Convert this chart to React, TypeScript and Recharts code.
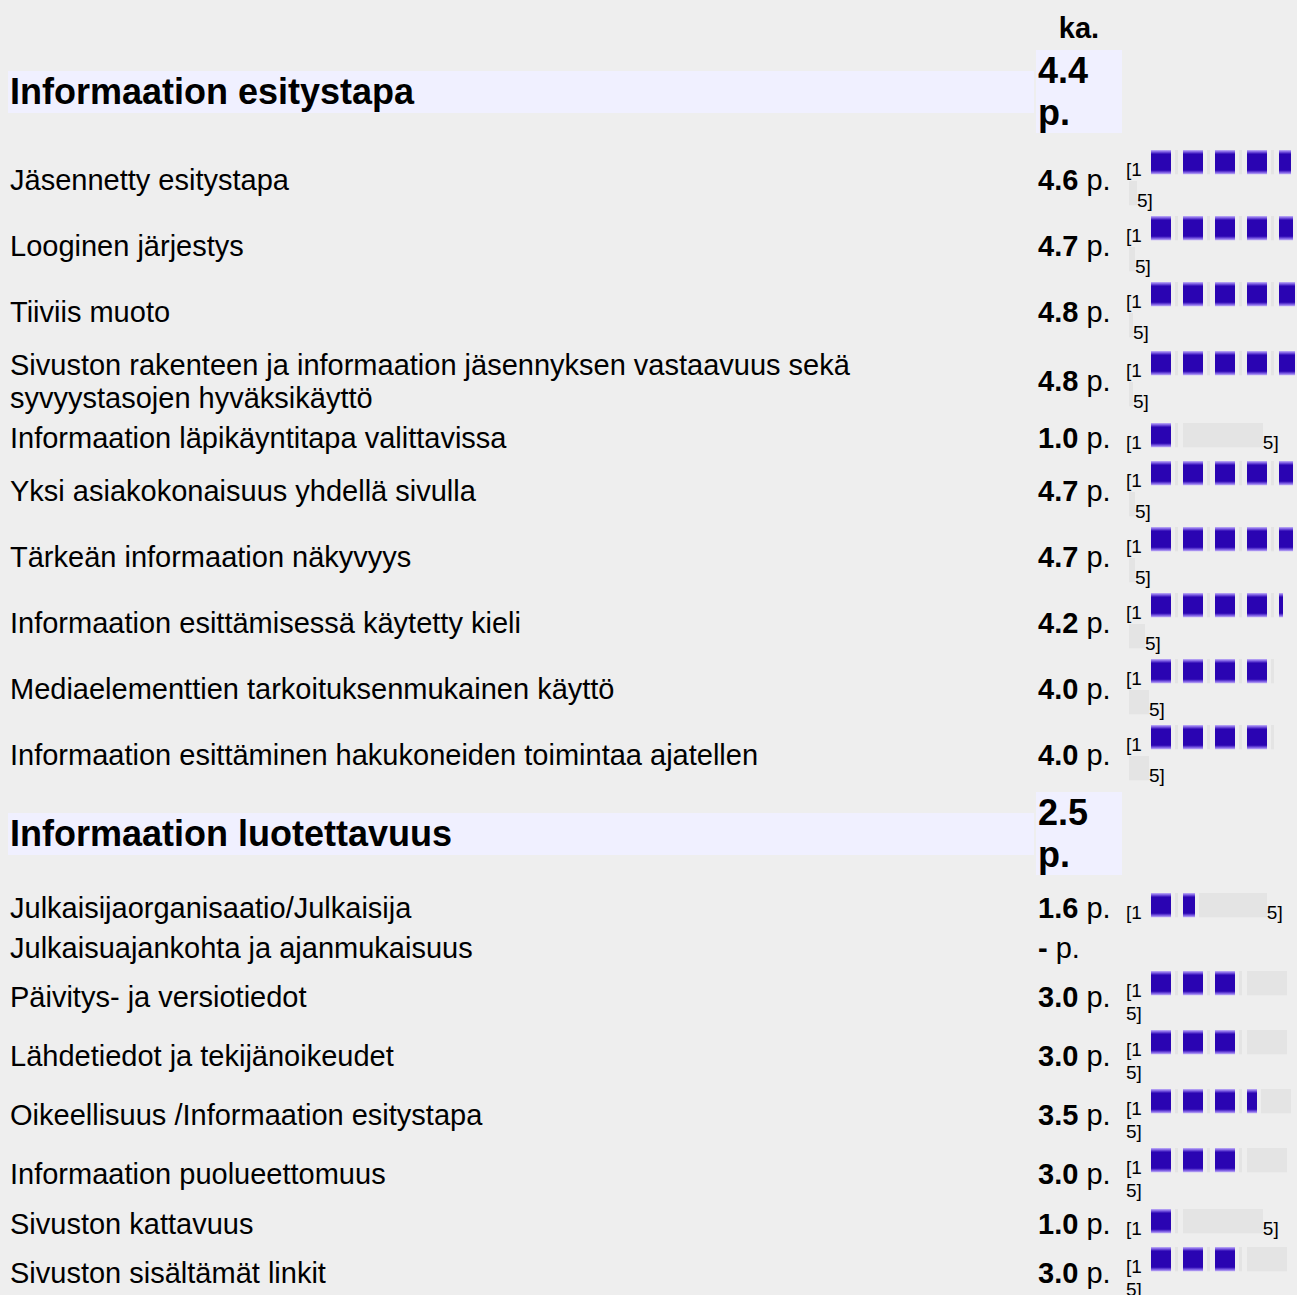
import React from 'react';
import { BarChart, Bar, XAxis, YAxis } from 'recharts';

const SECTION_TITLES = ['Informaation esitystapa', 'Informaation luotettavuus'];
const SECTION_AVERAGES = [4.4, 2.5];

const PRESENTATION_ITEMS = [
  'Jäsennetty esitystapa',
  'Looginen järjestys',
  'Tiiviis muoto',
  'Sivuston rakenteen ja informaation jäsennyksen vastaavuus sekä syvyystasojen hyväksikäyttö',
  'Informaation läpikäyntitapa valittavissa',
  'Yksi asiakokonaisuus yhdellä sivulla',
  'Tärkeän informaation näkyvyys',
  'Informaation esittämisessä käytetty kieli',
  'Mediaelementtien tarkoituksenmukainen käyttö',
  'Informaation esittäminen hakukoneiden toimintaa ajatellen',
];
const PRESENTATION_SCORES: (number | null)[] = [4.6, 4.7, 4.8, 4.8, 1.0, 4.7, 4.7, 4.2, 4.0, 4.0];

const RELIABILITY_ITEMS = [
  'Julkaisijaorganisaatio/Julkaisija',
  'Julkaisuajankohta ja ajanmukaisuus',
  'Päivitys- ja versiotiedot',
  'Lähdetiedot ja tekijänoikeudet',
  'Oikeellisuus /Informaation esitystapa',
  'Informaation puolueettomuus',
  'Sivuston kattavuus',
  'Sivuston sisältämät linkit',
];
const RELIABILITY_SCORES: (number | null)[] = [1.6, null, 3.0, 3.0, 3.5, 3.0, 1.0, 3.0];

const SCALE_MIN = 1;
const SCALE_MAX = 5;
const AVG_HEADER = 'ka.';
const UNIT = 'p.';

// ─── look ────────────────────────────────────────────────────────────────────
const FONT = "'Liberation Sans', Arial, Helvetica, sans-serif";
const BG = '#eeeeee';
const LAVENDER = '#f0f0ff';
const TRACK = '#e4e4e4';
const PX = 20; // pixels per point on the little score strips
const SQUARES = [0, 1, 2, 3, 4];

type Kind = 'wrap' | 'stack' | 'inline' | 'none';
const kindOf = (s: number | null): Kind =>
  s == null ? 'none' : s >= 4 ? 'wrap' : s >= 2 ? 'stack' : 'inline';
const ROW_HEIGHT: Record<Kind, number> = { wrap: 64, stack: 57, inline: 38, none: 38 };

const toSegments = (score: number) => {
  const row: Record<string, number | string> = { name: 'score' };
  SQUARES.forEach((i) => {
    const f = Math.max(0, Math.min(1, score - i));
    row[`sq${i}`] = f;
    row[`gap${i}`] = f >= 1 ? 0.6 : f > 0 ? 0.2 : 0;
  });
  row.rest = SCALE_MAX - score;
  return row;
};
const SQUARE_KEYS = SQUARES.flatMap((i) => [`sq${i}`, `gap${i}`]);

const GapShape = (p: any) =>
  p.width >= 8 ? <rect x={p.x + 4} y={p.y} width={3} height={p.height} fill={TRACK} /> : <g />;

const Strip: React.FC<{ row: Record<string, number | string>; keys: string[]; offset: number }> = ({ row, keys, offset }) => {
  const units = keys.reduce((s, k) => s + (row[k] as number), 0);
  const width = Math.max(1, Math.round(units * PX));
  return (
    <span style={{ display: 'inline-block', marginLeft: offset }}>
      <BarChart
        width={width}
        height={27}
        data={[row]}
        layout="vertical"
        margin={{ top: 0, right: 0, bottom: 0, left: 0 }}
        barCategoryGap={0}
        barGap={0}
      >
        <defs>
          <linearGradient id="sqGrad" x1="0" y1="0" x2="0" y2="1">
            <stop offset="0" stopColor="#c2b2f8" />
            <stop offset="0.08" stopColor="#7a5ae2" />
            <stop offset="0.17" stopColor="#2a04b2" />
            <stop offset="0.83" stopColor="#2a04b2" />
            <stop offset="0.92" stopColor="#7a5ae2" />
            <stop offset="1" stopColor="#c2b2f8" />
          </linearGradient>
        </defs>
        <XAxis type="number" hide domain={[0, width / PX]} />
        <YAxis type="category" dataKey="name" hide />
        {keys.map((k) =>
          k.startsWith('gap') ? (
            <Bar key={k} dataKey={k} stackId="s" barSize={27} shape={GapShape} isAnimationActive={false} />
          ) : (
            <Bar
              key={k}
              dataKey={k}
              stackId="s"
              barSize={27}
              fill={k === 'rest' ? TRACK : 'url(#sqGrad)'}
              isAnimationActive={false}
            />
          )
        )}
      </BarChart>
    </span>
  );
};

const BarCell: React.FC<{ score: number; kind: Kind }> = ({ score, kind }) => {
  const seg = toSegments(score);
  const line: React.CSSProperties = { whiteSpace: 'nowrap', fontSize: 19, lineHeight: 'normal' };
  const lo = `[${SCALE_MIN}`;
  const hi = `${SCALE_MAX}]`;
  if (kind === 'wrap') {
    return (
      <div>
        <div style={line}>{lo}<Strip row={seg} keys={SQUARE_KEYS} offset={9} /></div>
        <div style={{ ...line, marginTop: -1 }}><Strip row={seg} keys={['rest']} offset={3} />{hi}</div>
      </div>
    );
  }
  if (kind === 'stack') {
    return (
      <div>
        <div style={line}>{lo}<Strip row={seg} keys={[...SQUARE_KEYS, 'rest']} offset={9} /></div>
        <div style={{ ...line, marginTop: 1 }}>{hi}</div>
      </div>
    );
  }
  return (
    <div style={line}>{lo}<Strip row={seg} keys={[...SQUARE_KEYS, 'rest']} offset={9} />{hi}</div>
  );
};

const ItemRow: React.FC<{ label: string; score: number | null }> = ({ label, score }) => {
  const kind = kindOf(score);
  const top = kind === 'stack';
  return (
    <div style={{ display: 'flex', gap: 2, minHeight: ROW_HEIGHT[kind], alignItems: top ? 'flex-start' : 'center' }}>
      <div style={{ width: 1026, flexShrink: 0, boxSizing: 'border-box', padding: '2.5px 2px', marginTop: top ? 9 : 0 }}>
        {label}
      </div>
      <div style={{ width: 86, flexShrink: 0, boxSizing: 'border-box', padding: '2.5px 2px', marginTop: top ? 9 : 0, whiteSpace: 'nowrap' }}>
        <b>{score == null ? '-' : score.toFixed(1)}</b> {UNIT}
      </div>
      <div style={{ flex: 1, minWidth: 0, paddingLeft: 2, paddingTop: top ? 1 : 0 }}>
        {score != null && <BarCell score={score} kind={kind} />}
      </div>
    </div>
  );
};

const SectionRow: React.FC<{ title: string; avg: number; first: boolean }> = ({ title, avg, first }) => (
  <div style={{ display: 'flex', gap: 2, height: 83, marginTop: first ? 0 : 3, marginBottom: first ? 13 : 12 }}>
    <div style={{ width: 1026, flexShrink: 0, display: 'flex', alignItems: 'center' }}>
      <div style={{ width: '100%', background: LAVENDER, fontSize: 36, fontWeight: 'bold', padding: '0 2px', lineHeight: 'normal' }}>
        {title}
      </div>
    </div>
    <div style={{ width: 86, flexShrink: 0, boxSizing: 'border-box', background: LAVENDER, fontSize: 36, fontWeight: 'bold', padding: '0 2px', lineHeight: 'normal' }}>
      {avg.toFixed(1)} {UNIT}
    </div>
  </div>
);

const SECTIONS = [
  { items: PRESENTATION_ITEMS, scores: PRESENTATION_SCORES },
  { items: RELIABILITY_ITEMS, scores: RELIABILITY_SCORES },
];

export default function App() {
  return (
    <div style={{ position: 'fixed', inset: 0, background: BG, overflow: 'hidden', fontFamily: FONT, color: '#000' }}>
      <div style={{ position: 'absolute', left: 8, top: 8, width: 1289, display: 'flex', flexDirection: 'column', gap: 2, fontSize: 29, lineHeight: 'normal' }}>
        <div style={{ display: 'flex', gap: 2, height: 40, alignItems: 'center' }}>
          <div style={{ width: 1026, flexShrink: 0 }} />
          <div style={{ width: 86, flexShrink: 0, textAlign: 'center', fontWeight: 'bold' }}>{AVG_HEADER}</div>
        </div>
        {SECTIONS.map((sec, si) => (
          <React.Fragment key={si}>
            <SectionRow title={SECTION_TITLES[si]} avg={SECTION_AVERAGES[si]} first={si === 0} />
            {sec.items.map((label, i) => (
              <ItemRow key={label} label={label} score={sec.scores[i]} />
            ))}
          </React.Fragment>
        ))}
      </div>
    </div>
  );
}
